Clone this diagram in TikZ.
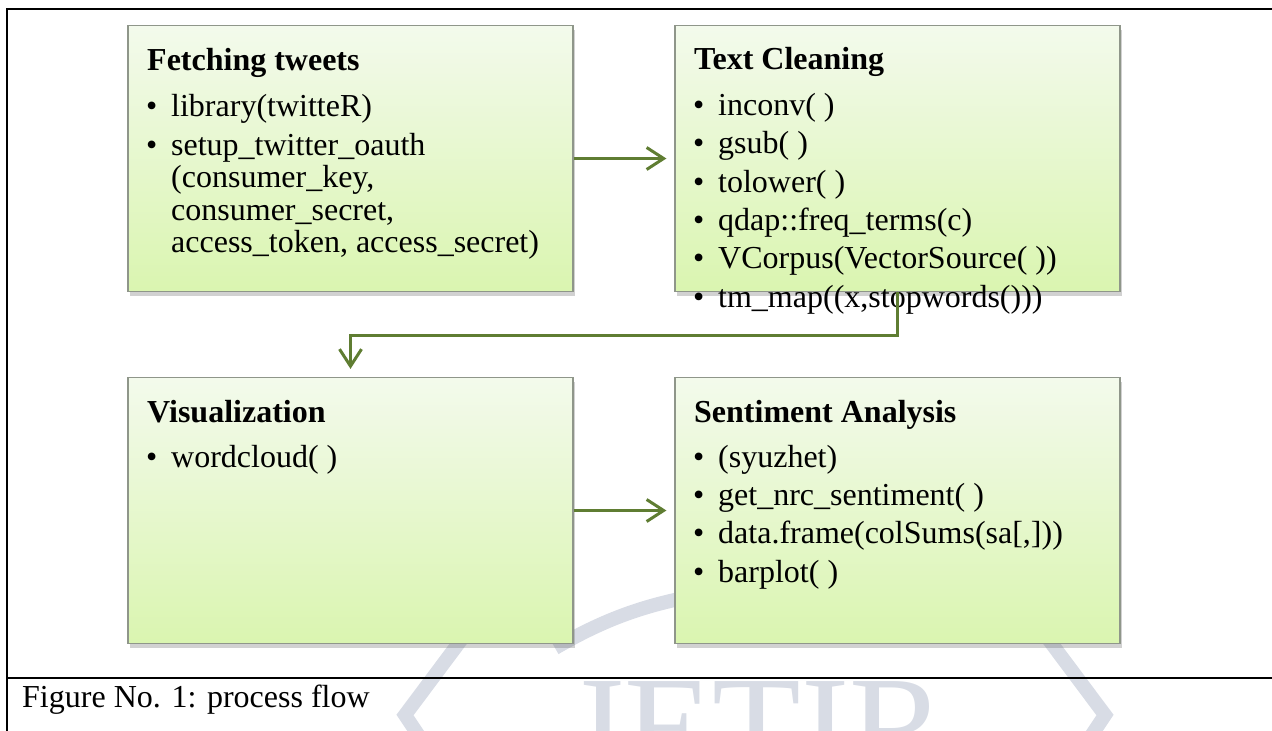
\documentclass[tikz,border=0pt]{standalone}
\usepackage{fontspec}
\setmainfont{Liberation Serif}
\usepackage{tikz}
\usetikzlibrary{positioning,arrows.meta,shadows}
\definecolor{boxtop}{RGB}{243,250,236}
\definecolor{boxbot}{RGB}{218,245,176}
\definecolor{boxedge}{RGB}{143,150,138}
\definecolor{flowgreen}{RGB}{95,125,50}
\definecolor{wmgray}{RGB}{216,220,229}
\newcommand{\bul}{\makebox[25pt][l]{\textbullet}}
\tikzset{
  stagebox/.style={draw=boxedge,line width=1.2pt,top color=boxtop,bottom color=boxbot,
    minimum width=445pt,minimum height=266pt,inner sep=0pt,
    drop shadow={shadow xshift=2pt,shadow yshift=-4pt,fill=black!60,opacity=0.3}},
  headtext/.style={anchor=base west,inner sep=0pt,font=\fontsize{32}{38}\selectfont\bfseries},
  itemtext/.style={anchor=base west,inner sep=0pt,font=\fontsize{32}{38}\selectfont},
  flow/.style={draw=flowgreen,line width=3pt,-{Straight Barb[length=17pt,width=22pt]}}
}
\begin{document}
\begin{tikzpicture}[x=1pt,y=-1pt]
\useasboundingbox (0,0) rectangle (1272,731);
% watermark
\draw[wmgray,line width=14pt] (470,628)--(405,715)--(445,775);
\draw[wmgray,line width=14pt] (1040,628)--(1105,715)--(1065,775);
\draw[wmgray,line width=14pt] (555,648) .. controls (600,622) and (640,605) .. (705,594);
\node[anchor=base,inner sep=0pt,text=wmgray,font=\fontsize{145}{145}\selectfont] (wmark) at (757,776) {JETIR};
% stages
\node[stagebox] (fetch) at (350.5,158.5) {};
\node[stagebox] (clean) at (897.5,158.5) {};
\node[stagebox] (vis) at (350.5,510.5) {};
\node[stagebox] (senti) at (897.5,510.5) {};
\node[headtext] (fetchhead) at (147,70) {Fetching tweets};
\node[headtext] (cleanhead) at (694,69) {Text Cleaning};
\node[headtext] (vishead) at (147,422) {Visualization};
\node[headtext] (sentihead) at (694,422) {Sentiment Analysis};
\foreach \y/\txt [count=\i] in {116/{library(twitteR)},155/{setup\_twitter\_oauth}}
  \node[itemtext] (fetch\i) at (146,\y) {\bul\txt};
\foreach \y/\txt [count=\i] in {187/{(consumer\_key,},220/{consumer\_secret,},252/{access\_token, access\_secret)}}
  \node[itemtext] (fetchmore\i) at (171,\y) {\txt};
\foreach \y/\txt [count=\i] in {115/{inconv( )},153/{gsub( )},192/{tolower( )},230/{qdap::freq\_terms(c)},268/{VCorpus(VectorSource( ))},307/{tm\_map((x,stopwords()))}}
  \node[itemtext] (clean\i) at (693,\y) {\bul\txt};
\node[itemtext] (vis1) at (146,467) {\bul wordcloud( )};
\foreach \y/\txt [count=\i] in {467/{(syuzhet)},505/{get\_nrc\_sentiment( )},543/{data.frame(colSums(sa[,]))},582/{barplot( )}}
  \node[itemtext] (senti\i) at (693,\y) {\bul\txt};
% flow
\draw[flow,shorten >=8pt] (fetch.east) -- (clean.west);
\draw[flow,shorten >=8pt] (clean.south) -- ++(0,43) -| (vis.north);
\draw[flow,shorten >=8pt] (vis.east) -- (senti.west);
% frame and caption
\draw[line width=2.7pt] (7,731) -- (7,9) -- (1272,9);
\draw[line width=2.7pt] (7,678) -- (1272,678);
\node[itemtext] (caption) at (22,707) {Figure No. 1: process flow};
\end{tikzpicture}
\end{document}
